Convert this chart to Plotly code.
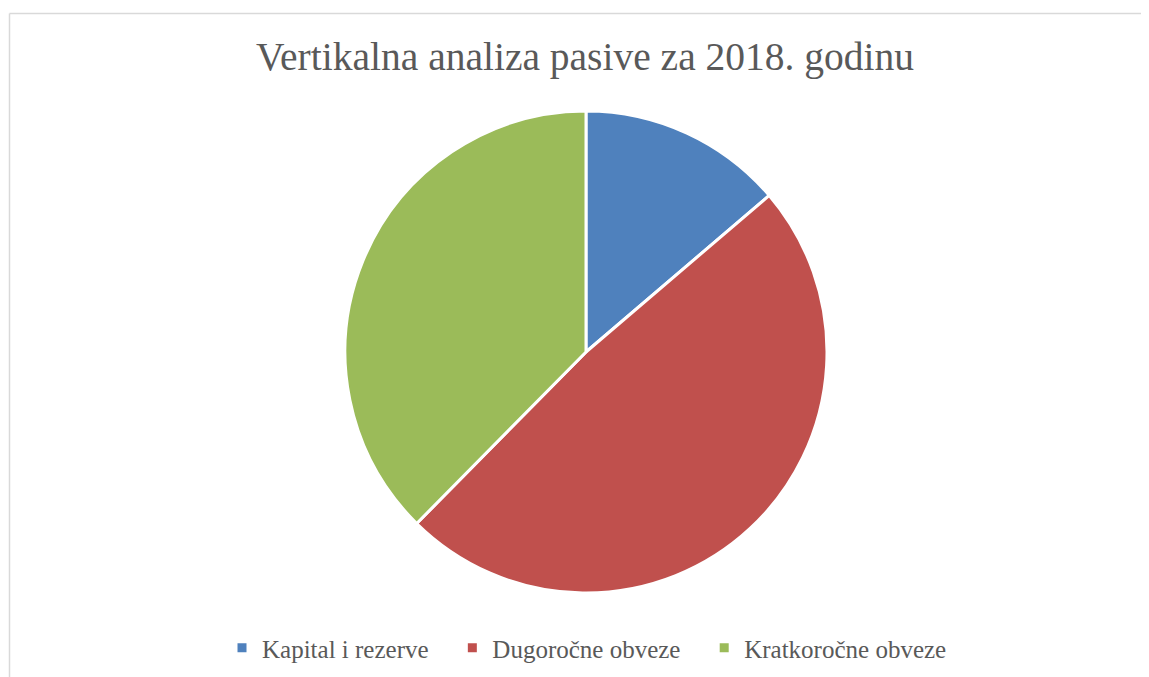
import plotly.graph_objects as go

categories = ["Kapital i rezerve", "Dugoročne obveze", "Kratkoročne obveze"]
values = [13.75, 48.65, 37.6]
colors = ["#4F81BD", "#C0504D", "#9BBB59"]
title_text = "Vertikalna analiza pasive za 2018. godinu"

# legend labels padded with non-breaking spaces to widen gaps between entries
legend_labels = [c + ("\u00a0" * 3 if i < len(categories) - 1 else "")
                 for i, c in enumerate(categories)]

W, H = 1149, 677
OFF = 8  # page body margin
cx, cy, r = 586 - OFF, 352 - OFF, 241

fig = go.Figure(go.Pie(
    labels=legend_labels,
    values=values,
    marker=dict(colors=colors, line=dict(color="white", width=3)),
    sort=False,
    direction="clockwise",
    rotation=0,
    textinfo="none",
    hoverinfo="label+percent",
    domain=dict(x=[(cx - r) / W, (cx + r) / W],
                y=[(H - cy - r) / H, (H - cy + r) / H]),
))

fig.update_layout(
    width=W, height=H,
    margin=dict(l=0, r=0, t=0, b=0),
    paper_bgcolor="white",
    title=dict(text=title_text, x=(585 - OFF) / W, xanchor="center",
               y=1 - (56 - OFF) / H, yanchor="middle",
               font=dict(family="Liberation Serif", size=39.5, color="#595959")),
    legend=dict(orientation="h", x=(587 - OFF) / W, xanchor="center",
                y=1 - (648 - OFF) / H, yanchor="middle",
                font=dict(family="Liberation Serif", size=25, color="#595959"),
                itemwidth=30),
    shapes=[
        dict(type="line", xref="paper", yref="paper", x0=(9.5 - OFF) / W, x1=1.01,
             y0=1 - (13.5 - OFF) / H, y1=1 - (13.5 - OFF) / H,
             line=dict(color="#D9D9D9", width=1.5)),
        dict(type="line", xref="paper", yref="paper", x0=(9.5 - OFF) / W, x1=(9.5 - OFF) / W,
             y0=-0.01, y1=1 - (13.5 - OFF) / H, line=dict(color="#D9D9D9", width=1.5)),
    ],
)

fig.write_html("out.html")
